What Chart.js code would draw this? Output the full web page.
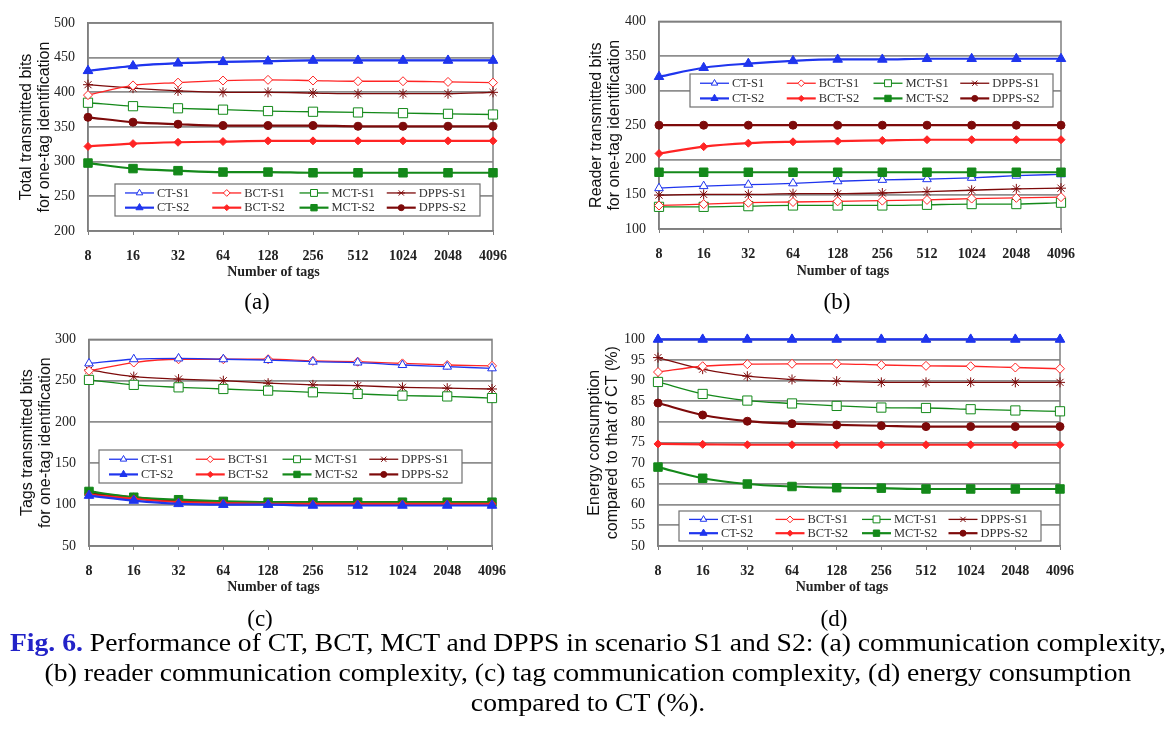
<!DOCTYPE html>
<html>
<head>
<meta charset="utf-8">
<script src="https://cdn.jsdelivr.net/npm/chart.js@4.4.0/dist/chart.umd.min.js"></script>
<style>
  html, body { margin: 0; padding: 0; background: #fff; }
  #page { position: relative; width: 1176px; height: 732px; overflow: hidden;
          font-family: "Liberation Serif", "Times New Roman", serif; color: #000; }
  #page canvas { position: absolute; }
  .sub { position: absolute; font-size: 23px; transform: translate(-50%, -50%); white-space: nowrap; }
  #caption { position: absolute; left: 0; top: 628px; width: 1176px; text-align: center;
             font-size: 25px; line-height: 30px; white-space: nowrap;
             transform: scaleX(1.105); transform-origin: 588px 0; }
  #caption b { color: #2323c8; }
</style>
</head>
<body>
<div id="page">
  <canvas id="chartA" width="520" height="292" style="left:0px;top:0px"></canvas>
  <canvas id="chartB" width="520" height="292" style="left:585px;top:0px"></canvas>
  <canvas id="chartC" width="520" height="290" style="left:0px;top:318px"></canvas>
  <canvas id="chartD" width="520" height="290" style="left:585px;top:318px"></canvas>
  <div class="sub" style="left:257px;top:302px">(a)</div>
  <div class="sub" style="left:837px;top:302px">(b)</div>
  <div class="sub" style="left:260px;top:619px">(c)</div>
  <div class="sub" style="left:834px;top:619px">(d)</div>
  <div id="caption"><b>Fig. 6.</b> Performance of CT, BCT, MCT and DPPS in scenario S1 and S2: (a) communication complexity,<br>(b) reader communication complexity, (c) tag communication complexity, (d) energy consumption<br>compared to CT (%).</div>
</div>

<script>
// Data
const tagCounts = ['8', '16', '32', '64', '128', '256', '512', '1024', '2048', '4096'];
const seriesNames = ['CT-S1', 'BCT-S1', 'MCT-S1', 'DPPS-S1', 'CT-S2', 'BCT-S2', 'MCT-S2', 'DPPS-S2'];

// (a) total transmitted bits, one row per series (same order as seriesNames)
const totalBits = [
    [431, 438, 442, 444, 445, 446, 446, 446, 446, 446],
    [396, 410, 414, 417, 418, 417, 416, 416, 415, 414],
    [385, 380, 377, 375, 373, 372, 371, 370, 369, 368],
    [411, 406, 402, 400, 400, 399, 398, 398, 398, 400],
    [431, 438, 442, 444, 445, 446, 446, 446, 446, 446],
    [322, 326, 328, 329, 330, 330, 330, 330, 330, 330],
    [298, 290, 287, 285, 285, 284, 284, 284, 284, 284],
    [364, 357, 354, 352, 352, 352, 351, 351, 351, 351]
];

// (b) reader transmitted bits
const readerBits = [
    [159, 162, 164, 166, 169, 171, 172, 174, 177, 179],
    [134, 136, 138, 139, 140, 141, 142, 144, 145, 146],
    [132, 132, 133, 134, 134, 134, 135, 136, 136, 138],
    [149, 150, 150, 151, 151, 152, 154, 156, 158, 159],
    [320, 333, 339, 343, 345, 345, 346, 346, 346, 346],
    [209, 219, 224, 226, 227, 228, 229, 229, 229, 229],
    [182, 182, 182, 182, 182, 182, 182, 182, 182, 182],
    [250, 250, 250, 250, 250, 250, 250, 250, 250, 250]
];

// (c) tags transmitted bits
const tagBits = [
    [271, 276, 277, 276, 275, 273, 272, 269, 267, 265],
    [262, 272, 276, 276, 276, 274, 273, 271, 269, 268],
    [251, 245, 242, 240, 238, 236, 234, 232, 231, 229],
    [263, 255, 252, 250, 247, 245, 244, 242, 241, 240],
    [111, 105, 101, 100, 100, 99, 99, 99, 99, 99],
    [112, 107, 103, 102, 101, 101, 101, 101, 101, 101],
    [116, 109, 106, 104, 103, 103, 103, 103, 103, 103],
    [114, 109, 104, 103, 102, 102, 102, 102, 102, 102]
];

// (d) energy consumption compared to CT (%)
const energyRatio = [
    [100, 100, 100, 100, 100, 100, 100, 100, 100, 100],
    [92.1, 93.5, 94.0, 94.1, 94.1, 93.8, 93.6, 93.5, 93.2, 92.9],
    [89.7, 86.8, 85.2, 84.5, 83.9, 83.5, 83.4, 83.1, 82.8, 82.6],
    [95.6, 92.8, 91.1, 90.3, 89.9, 89.6, 89.6, 89.6, 89.6, 89.6],
    [100, 100, 100, 100, 100, 100, 100, 100, 100, 100],
    [74.7, 74.6, 74.5, 74.5, 74.5, 74.5, 74.5, 74.5, 74.5, 74.5],
    [69.1, 66.4, 65.0, 64.4, 64.1, 64.0, 63.8, 63.8, 63.8, 63.8],
    [84.6, 81.7, 80.2, 79.6, 79.3, 79.1, 78.9, 78.9, 78.9, 78.9]
];

// Look of each series
const BLUE = '#1f35ee', RED = '#ff2424', GREEN = '#14891a', DARKRED = '#7d0a0a';
const seriesStyle = [
    { color: BLUE,    point: 'triangle', r: 5,   open: true,  width: 1.3 },
    { color: RED,     point: 'rectRot',  r: 4.5, open: true,  width: 1.3 },
    { color: GREEN,   point: 'rect',     r: 6.5, open: true,  width: 1.3 },
    { color: DARKRED, point: 'star',     r: 5,   open: true,  width: 1.3 },
    { color: BLUE,    point: 'triangle', r: 5.5, open: false, width: 2.2 },
    { color: RED,     point: 'rectRot',  r: 4,   open: false, width: 2.2 },
    { color: GREEN,   point: 'rect',     r: 6,   open: false, width: 2.2 },
    { color: DARKRED, point: 'circle',   r: 4,   open: false, width: 2.2 }
];

function drawMarker(ctx, s, x, y, r) {
    ctx.save();
    ctx.strokeStyle = s.color;
    ctx.fillStyle = s.open ? '#fff' : s.color;
    ctx.lineWidth = 1;
    ctx.beginPath();
    if (s.point === 'triangle') {
        ctx.moveTo(x, y - r);
        ctx.lineTo(x + r * 0.866, y + r / 2);
        ctx.lineTo(x - r * 0.866, y + r / 2);
        ctx.closePath();
    } else if (s.point === 'rectRot') {
        ctx.moveTo(x, y - r); ctx.lineTo(x + r, y); ctx.lineTo(x, y + r); ctx.lineTo(x - r, y);
        ctx.closePath();
    } else if (s.point === 'rect') {
        const h = r * 0.707;
        ctx.rect(x - h, y - h, 2 * h, 2 * h);
    } else if (s.point === 'circle') {
        ctx.arc(x, y, r, 0, Math.PI * 2);
    } else if (s.point === 'star') {
        ctx.moveTo(x - r, y); ctx.lineTo(x + r, y);
        ctx.moveTo(x - r * 0.7, y - r * 0.7); ctx.lineTo(x + r * 0.7, y + r * 0.7);
        ctx.moveTo(x - r * 0.7, y + r * 0.7); ctx.lineTo(x + r * 0.7, y - r * 0.7);
        ctx.stroke();
        ctx.restore();
        return;
    }
    ctx.fill();
    ctx.stroke();
    ctx.restore();
}

// plot frame, in-plot legend and x axis title
const panelExtras = {
    id: 'panelExtras',
    beforeDatasetsDraw(chart) {
        const { ctx, chartArea: a } = chart;
        ctx.save();
        ctx.strokeStyle = '#7f7f7f';
        ctx.lineWidth = 1.5;
        ctx.strokeRect(a.left, a.top, a.right - a.left, a.bottom - a.top);
        ctx.restore();
    },
    afterDraw(chart, args, opts) {
        const { ctx, chartArea: a } = chart;
        const b = opts.box;
        ctx.save();
        ctx.fillStyle = '#fff';
        ctx.fillRect(b.x, b.y, b.w, b.h);
        ctx.strokeStyle = '#707070';
        ctx.lineWidth = 1.2;
        ctx.strokeRect(b.x, b.y, b.w, b.h);
        ctx.font = '12.5px "Liberation Serif"';
        ctx.textBaseline = 'middle';
        const colW = (b.w - 20) / 4 + 1;
        seriesNames.forEach((name, i) => {
            const s = seriesStyle[i];
            const x0 = b.x + 10 + (i % 4) * colW;
            const y0 = b.y + (i < 4 ? b.h * 0.28 : b.h * 0.74);
            ctx.strokeStyle = s.color;
            ctx.lineWidth = s.width;
            ctx.beginPath();
            ctx.moveTo(x0, y0);
            ctx.lineTo(x0 + 29, y0);
            ctx.stroke();
            drawMarker(ctx, s, x0 + 14.5, y0, s.r * 0.75);
            ctx.fillStyle = '#333';
            ctx.fillText(name, x0 + 32, y0 + 0.5);
        });
        ctx.font = 'bold 14px "Liberation Serif"';
        ctx.fillStyle = '#222';
        ctx.textAlign = 'center';
        ctx.fillText('Number of tags', (a.left + a.right) / 2 + opts.titleDx, opts.titleY);
        ctx.restore();
    }
};

function makePanel(id, data, p) {
    const xH = 60;
    const datasets = data.map((values, i) => {
        const s = seriesStyle[i];
        return {
            label: seriesNames[i],
            data: values,
            borderColor: s.color,
            borderWidth: s.width,
            pointStyle: s.point,
            pointRadius: s.r,
            pointBorderWidth: 1,
            pointBorderColor: s.color,
            pointBackgroundColor: s.open ? '#fff' : s.color,
            cubicInterpolationMode: 'monotone',
            tension: 0.3,
            clip: false,
            order: i < 4 ? 1 : 0
        };
    });
    new Chart(document.getElementById(id), {
        type: 'line',
        data: { labels: tagCounts, datasets: datasets },
        options: {
            responsive: false,
            animation: false,
            layout: {
                padding: {
                    left: 0,
                    top: p.T - p.y,
                    right: p.x + p.w - p.R,
                    bottom: p.y + p.h - p.B - xH
                }
            },
            plugins: {
                legend: { display: false },
                tooltip: { enabled: false },
                panelExtras: { box: p.box, titleDx: -17, titleY: p.titleY - p.y }
            },
            scales: {
                x: {
                    offset: false,
                    afterFit: s => { s.height = xH; },
                    grid: { display: true, drawOnChartArea: false, drawTicks: true, tickLength: 4, color: '#7f7f7f' },
                    border: { display: true, color: '#7f7f7f', width: 1.5 },
                    ticks: { padding: 13, color: '#222', font: { family: 'Liberation Serif', size: 14, weight: 'bold' } }
                },
                y: {
                    min: p.min,
                    max: p.max,
                    afterFit: s => { s.width = p.L - p.x; },
                    grid: { drawTicks: false, color: '#8e8e8e', lineWidth: 1.8 },
                    border: { display: true, color: '#7f7f7f', width: 1.5 },
                    ticks: { stepSize: p.step, padding: 13, color: '#222', font: { family: 'Liberation Serif', size: 14 } },
                    title: {
                        display: true,
                        text: p.yTitle,
                        color: '#111',
                        padding: { top: p.titleX - p.x - 8.5, bottom: 0 },
                        font: { family: 'Liberation Sans', size: 16, lineHeight: 1.07 }
                    }
                }
            }
        },
        plugins: [panelExtras]
    });
}

makePanel('chartA', totalBits, {
    x: 0, y: 0, w: 520, h: 292, L: 88, R: 493, T: 23, B: 231,
    min: 200, max: 500, step: 50, titleX: 27, titleY: 272,
    yTitle: ['Total transmitted bits', 'for one-tag identification'],
    box: { x: 115, y: 184, w: 365, h: 32 }
});
makePanel('chartB', readerBits, {
    x: 585, y: 0, w: 520, h: 292, L: 659, R: 1061, T: 14, B: 229,
    min: 100, max: 400, step: 50, titleX: 597, titleY: 271,
    yTitle: ['Reader transmitted bits', 'for one-tag identification'],
    box: { x: 105, y: 74, w: 363, h: 33 }
});
makePanel('chartC', tagBits, {
    x: 0, y: 318, w: 520, h: 290, L: 89, R: 492, T: 331, B: 546,
    min: 50, max: 300, step: 50, titleX: 28, titleY: 587,
    yTitle: ['Tags transmitted bits', 'for one-tag identification'],
    box: { x: 99, y: 132, w: 363, h: 33 }
});
makePanel('chartD', energyRatio, {
    x: 585, y: 318, w: 520, h: 290, L: 658, R: 1060, T: 331, B: 546,
    min: 50, max: 100, step: 5, titleX: 595, titleY: 587,
    yTitle: ['Energy consumption', 'compared to that of CT (%)'],
    box: { x: 94, y: 193, w: 362, h: 30 }
});
</script>
</body>
</html>
